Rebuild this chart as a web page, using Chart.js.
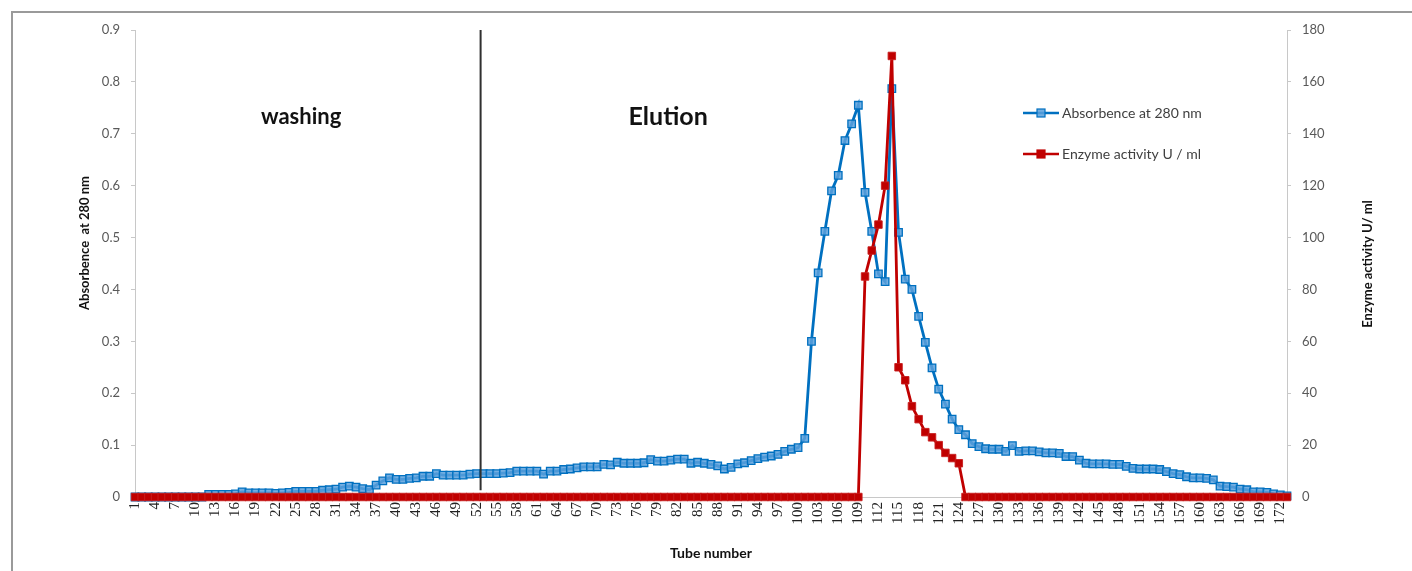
<!DOCTYPE html>
<html>
<head>
<meta charset="utf-8">
<script src="https://cdn.jsdelivr.net/npm/chart.js@4/dist/chart.umd.min.js"></script>
<style>
  html, body { margin: 0; padding: 0; background: #fff; }
  #wrap { position: relative; width: 1412px; height: 571px; }
  #frame { position: absolute; left: 11px; top: 11px; right: 0; bottom: 0;
           border-left: 2px solid #9a9a9a; border-top: 2px solid #9a9a9a; }
  canvas { position: absolute; left: 0; top: 0; }
</style>
</head>
<body>
<div id="wrap">
  <div id="frame"></div>
  <canvas id="chart" width="1412" height="571"></canvas>
</div>
<script>
// tube numbers (x categories)
const tubes = [
  1, 2, 3, 4, 5, 6, 7, 8, 9, 10, 11, 12, 13, 14, 15, 16, 17, 18, 19, 20,
  21, 22, 23, 24, 25, 26, 27, 28, 29, 30, 31, 32, 33, 34, 35, 36, 37, 38, 39, 40,
  41, 42, 43, 44, 45, 46, 47, 48, 49, 50, 51, 52, 53, 54, 55, 56, 57, 58, 59, 60,
  61, 62, 63, 64, 65, 66, 67, 68, 69, 70, 71, 72, 73, 74, 75, 76, 77, 78, 79, 80,
  81, 82, 83, 84, 85, 86, 87, 88, 89, 90, 91, 92, 93, 94, 95, 96, 97, 98, 99, 100,
  101, 102, 103, 104, 105, 106, 107, 108, 109, 110, 111, 112, 113, 114, 115, 116, 117, 118, 119, 120,
  121, 122, 123, 124, 125, 126, 127, 128, 129, 130, 131, 132, 133, 134, 135, 136, 137, 138, 139, 140,
  141, 142, 143, 144, 145, 146, 147, 148, 149, 150, 151, 152, 153, 154, 155, 156, 157, 158, 159, 160,
  161, 162, 163, 164, 165, 166, 167, 168, 169, 170, 171, 172, 173
];

// absorbance at 280 nm (left axis)
const absorbance = [
  0, 0, 0, 0, 0, 0, 0, 0, 0, 0,
  0, 0.005, 0.005, 0.005, 0.005, 0.006, 0.010, 0.008, 0.008, 0.008,
  0.008, 0.007, 0.008, 0.009, 0.011, 0.011, 0.011, 0.011, 0.013, 0.014,
  0.015, 0.019, 0.021, 0.019, 0.016, 0.014, 0.023, 0.031, 0.037, 0.034,
  0.034, 0.036, 0.037, 0.040, 0.040, 0.045, 0.042, 0.042, 0.042, 0.042,
  0.044, 0.045, 0.045, 0.045, 0.045, 0.046, 0.047, 0.050, 0.050, 0.050,
  0.050, 0.044, 0.050, 0.050, 0.053, 0.054, 0.056, 0.058, 0.058, 0.058,
  0.063, 0.062, 0.067, 0.065, 0.065, 0.065, 0.066, 0.072, 0.069, 0.069,
  0.071, 0.073, 0.073, 0.065, 0.067, 0.065, 0.063, 0.060, 0.054, 0.057,
  0.064, 0.066, 0.070, 0.074, 0.077, 0.079, 0.082, 0.088, 0.092, 0.095,
  0.113, 0.300, 0.432, 0.512, 0.590, 0.620, 0.687, 0.719, 0.755, 0.587,
  0.512, 0.430, 0.415, 0.787, 0.510, 0.420, 0.400, 0.348, 0.298, 0.249,
  0.208, 0.179, 0.150, 0.130, 0.120, 0.103, 0.097, 0.093, 0.092, 0.092,
  0.088, 0.099, 0.088, 0.089, 0.089, 0.087, 0.085, 0.085, 0.084, 0.078,
  0.078, 0.071, 0.065, 0.064, 0.064, 0.064, 0.063, 0.063, 0.059, 0.055,
  0.054, 0.054, 0.054, 0.053, 0.049, 0.045, 0.043, 0.039, 0.037, 0.037,
  0.036, 0.033, 0.021, 0.020, 0.019, 0.015, 0.014, 0.010, 0.010, 0.009,
  0.006, 0.004, 0.002
];

// enzyme activity U / ml (right axis)
const activity = [
  0, 0, 0, 0, 0, 0, 0, 0, 0, 0, 0, 0, 0, 0, 0, 0, 0, 0, 0, 0,
  0, 0, 0, 0, 0, 0, 0, 0, 0, 0, 0, 0, 0, 0, 0, 0, 0, 0, 0, 0,
  0, 0, 0, 0, 0, 0, 0, 0, 0, 0, 0, 0, 0, 0, 0, 0, 0, 0, 0, 0,
  0, 0, 0, 0, 0, 0, 0, 0, 0, 0, 0, 0, 0, 0, 0, 0, 0, 0, 0, 0,
  0, 0, 0, 0, 0, 0, 0, 0, 0, 0, 0, 0, 0, 0, 0, 0, 0, 0, 0, 0,
  0, 0, 0, 0, 0, 0, 0, 0, 0, 85, 95, 105, 120, 170, 50, 45, 35, 30, 25, 23,
  20, 17, 15, 13, 0, 0, 0, 0, 0, 0, 0, 0, 0, 0, 0, 0, 0, 0, 0, 0,
  0, 0, 0, 0, 0, 0, 0, 0, 0, 0, 0, 0, 0, 0, 0, 0, 0, 0, 0, 0,
  0, 0, 0, 0, 0, 0, 0, 0, 0, 0, 0, 0, 0
];

const leftTitle = 'Absorbence  at 280 nm';
const rightTitle = 'Enzyme activity U/ ml';
const xTitle = 'Tube number';
const seriesNames = ['Absorbence at 280 nm', 'Enzyme activity U / ml'];
const dividerTube = 52.6;          // washing / elution boundary
const phaseLabels = [
  { text: 'washing', tube: 25.8, value: 0.732, size: 22 },
  { text: 'Elution', tube: 80.6, value: 0.732, size: 25 }
];

const BLUE = 'rgb(0, 112, 192)';
const BLUE_FILL = 'rgba(91, 160, 220, 0.85)';
const RED = 'rgb(192, 0, 0)';
const AXIS_GRAY = '#c8c8c8';
const TEXT_GRAY = '#595959';

Chart.defaults.font.family = 'Lato, "Open Sans", sans-serif';
Chart.defaults.color = TEXT_GRAY;

// draws divider, phase labels, legend and the two vertical axis titles
const decorPlugin = {
  id: 'decor',
  afterDatasetsDraw(chart) {
    const ctx = chart.ctx;
    const xs = chart.scales.x, ys = chart.scales.y;
    const area = chart.chartArea;
    ctx.save();

    // divider line
    const dx = xs.getPixelForValue(dividerTube - 1);
    ctx.strokeStyle = '#303030';
    ctx.lineWidth = 2;
    ctx.beginPath();
    ctx.moveTo(dx, area.top);
    ctx.lineTo(dx, ys.getPixelForValue(0.013));
    ctx.stroke();

    // phase labels
    ctx.fillStyle = '#111';
    ctx.textAlign = 'center';
    ctx.textBaseline = 'middle';
    phaseLabels.forEach(p => {
      ctx.font = 'bold ' + p.size + 'px Lato, sans-serif';
      ctx.fillText(p.text, xs.getPixelForValue(p.tube - 1), ys.getPixelForValue(p.value));
    });

    // legend
    const lx = 1023, ly = [113, 154];
    const cols = [[BLUE, BLUE_FILL], [RED, RED]];
    ctx.font = '14px Lato, sans-serif';
    ctx.textAlign = 'left';
    seriesNames.forEach((name, i) => {
      ctx.strokeStyle = cols[i][0];
      ctx.lineWidth = 2.5;
      ctx.beginPath();
      ctx.moveTo(lx, ly[i]);
      ctx.lineTo(lx + 36, ly[i]);
      ctx.stroke();
      ctx.fillStyle = cols[i][1];
      ctx.fillRect(lx + 14, ly[i] - 4, 8, 8);
      ctx.lineWidth = 1.2;
      ctx.strokeRect(lx + 14, ly[i] - 4, 8, 8);
      ctx.fillStyle = '#404040';
      ctx.fillText(name, lx + 39, ly[i]);
    });

    // vertical axis titles, both reading bottom to top
    ctx.fillStyle = '#111';
    ctx.font = 'bold 13px Lato, sans-serif';
    ctx.textAlign = 'center';
    [[leftTitle, 85, 243], [rightTitle, 1368, 264]].forEach(([t, x, y]) => {
      ctx.save();
      ctx.translate(x, y);
      ctx.rotate(-Math.PI / 2);
      ctx.fillText(t, 0, 0);
      ctx.restore();
    });
    ctx.restore();
  }
};

new Chart(document.getElementById('chart'), {
  type: 'line',
  data: {
    labels: tubes,
    datasets: [
      {
        label: seriesNames[0],
        data: absorbance,
        yAxisID: 'y',
        borderColor: BLUE,
        borderWidth: 2.8,
        pointStyle: 'rect',
        pointRadius: 5.3,
        pointBackgroundColor: BLUE_FILL,
        pointBorderColor: BLUE,
        pointBorderWidth: 1.3,
        tension: 0,
        clip: false,
        order: 1
      },
      {
        label: seriesNames[1],
        data: activity,
        yAxisID: 'y2',
        borderColor: RED,
        borderWidth: 2.8,
        pointStyle: 'rect',
        pointRadius: 5.3,
        pointBackgroundColor: RED,
        pointBorderColor: 'rgba(200, 30, 30, 0.9)',
        pointBorderWidth: 1,
        tension: 0,
        clip: false,
        order: 0
      }
    ]
  },
  options: {
    responsive: false,
    animation: false,
    layout: { padding: { top: 30, left: 0, right: 0, bottom: 0 } },
    plugins: {
      legend: { display: false },
      tooltip: { enabled: false }
    },
    scales: {
      x: {
        grid: { display: false, drawTicks: false },
        border: { display: true, color: AXIS_GRAY, width: 1 },
        ticks: {
          autoSkip: false,
          minRotation: 90,
          maxRotation: 90,
          padding: 5,
          color: '#222',
          font: { family: '"Liberation Serif", serif', size: 15 },
          callback: (v, i) => (i % 3 === 0 ? String(tubes[i]) : '')
        },
        title: {
          display: true,
          text: xTitle,
          color: '#111',
          font: { weight: 'bold', size: 14 },
          padding: { top: 0, bottom: 9 }
        },
        afterFit: s => { s.height = 74; }
      },
      y: {
        position: 'left',
        min: 0,
        max: 0.9,
        ticks: { stepSize: 0.1, padding: 11, font: { size: 13 } },
        grid: { drawOnChartArea: false, drawTicks: true, tickLength: 4, color: AXIS_GRAY },
        border: { display: true, color: AXIS_GRAY, width: 1 },
        afterFit: s => { s.width = 135; }
      },
      y2: {
        position: 'right',
        min: 0,
        max: 180,
        ticks: { stepSize: 20, padding: 11, font: { size: 13 } },
        grid: { drawOnChartArea: false, drawTicks: true, tickLength: 4, color: AXIS_GRAY },
        border: { display: true, color: AXIS_GRAY, width: 1 },
        afterFit: s => { s.width = 125; }
      }
    }
  },
  plugins: [decorPlugin]
});
</script>
</body>
</html>
